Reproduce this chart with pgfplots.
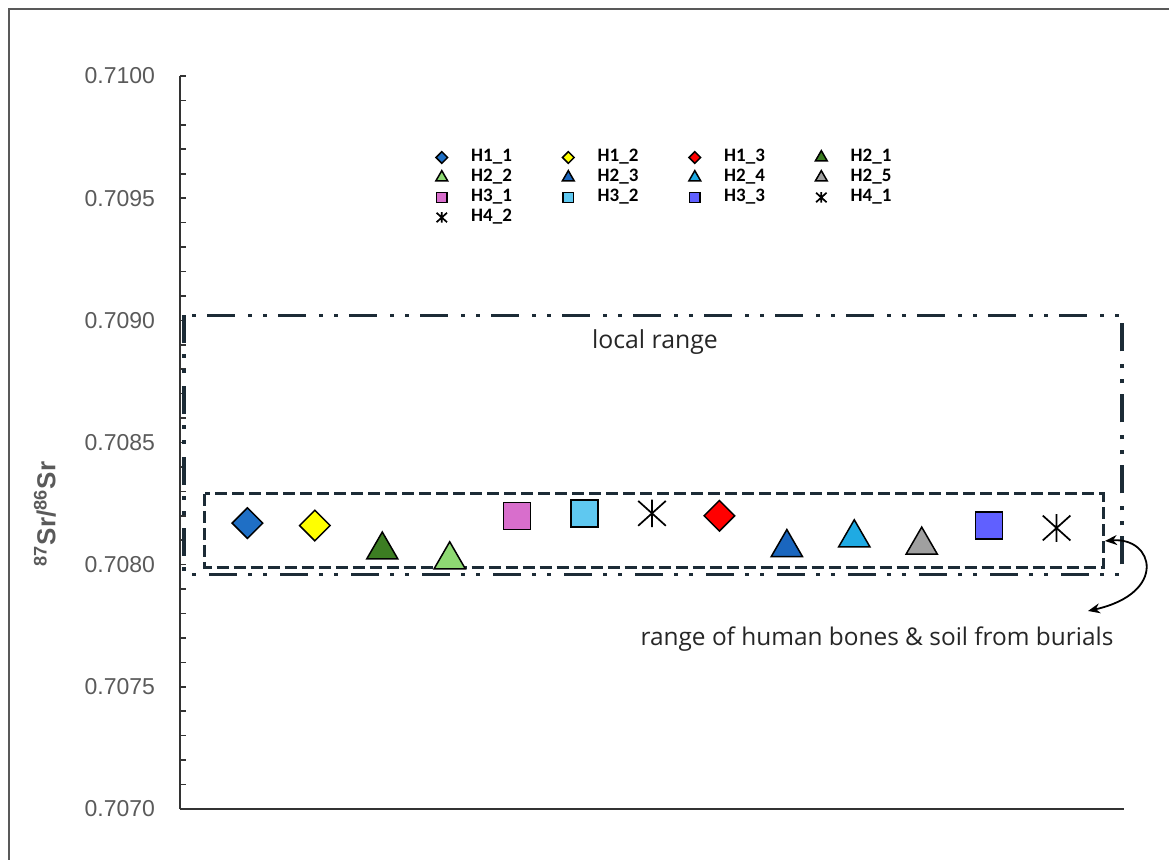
\documentclass[border=0pt]{standalone}
\usepackage{pgfplots}
\pgfplotsset{compat=1.18}
\usepackage{fontspec}
\setmainfont{Liberation Sans}
\newfontfamily\carlito{Carlito}
\newfontfamily\opensans{Open Sans}
\usetikzlibrary{arrows.meta}
\definecolor{boxc}{HTML}{1C2B36}
\definecolor{tickc}{HTML}{5A5A5A}
\definecolor{axc}{HTML}{333333}
\definecolor{cH11}{HTML}{1F6FC5}
\definecolor{cH12}{HTML}{FFFF00}
\definecolor{cH13}{HTML}{FF0000}
\definecolor{cH21}{HTML}{3C7D22}
\definecolor{cH22}{HTML}{8ED973}
\definecolor{cH23}{HTML}{1A66BE}
\definecolor{cH24}{HTML}{1FAAE3}
\definecolor{cH25}{HTML}{A0A0A0}
\definecolor{cH31}{HTML}{D86ECC}
\definecolor{cH32}{HTML}{5FC8F0}
\definecolor{cH33}{HTML}{6060FF}
\pgfdeclareplotmark{ast6}{%
  \pgfpathmoveto{\pgfqpoint{0pt}{\pgfplotmarksize}}%
  \pgfpathlineto{\pgfqpoint{0pt}{-\pgfplotmarksize}}%
  \pgfpathmoveto{\pgfqpoint{-\pgfplotmarksize}{0.9\pgfplotmarksize}}%
  \pgfpathlineto{\pgfqpoint{\pgfplotmarksize}{-0.9\pgfplotmarksize}}%
  \pgfpathmoveto{\pgfqpoint{-\pgfplotmarksize}{-0.9\pgfplotmarksize}}%
  \pgfpathlineto{\pgfqpoint{\pgfplotmarksize}{0.9\pgfplotmarksize}}%
  \pgfusepathqstroke}
\begin{document}
\begin{tikzpicture}
\useasboundingbox (-90pt,-25.5pt) rectangle (494.5pt,404.5pt);
\draw[color=black!65, line width=0.8pt] (-85.5pt,-25.5pt) -- (-85.5pt,400pt) -- (494.5pt,400pt);
\begin{axis}[
  at={(0pt,0pt)}, anchor=south west,
  scale only axis, width=472pt, height=366.5pt,
  xmin=0, xmax=14, ymin=0.7070, ymax=0.7100,
  axis x line*=bottom, axis y line*=left,
  axis line style={-, color=axc, line width=0.8pt},
  xtick=\empty,
  ytick={0.7070,0.7075,0.7080,0.7085,0.7090,0.7095,0.7100},
  minor y tick num=4,
  tick align=inside,
  major tick length=3pt, minor tick length=3pt,
  tick style={color=axc, line width=0.8pt},
  yticklabel style={/pgf/number format/fixed, /pgf/number format/zerofill, /pgf/number format/precision=4, font=\fontsize{11.5}{13}\selectfont, text=tickc, xshift=-9pt},
  /pgf/number format/assume math mode=true,
  clip=false,
  legend columns=4,
  legend style={at={(rel axis cs:0.268,0.903)}, anchor=north west, draw=none, fill=none, inner sep=0pt,
     font=\carlito\bfseries\fontsize{9.5}{10}\selectfont,
     nodes={inner sep=0pt, text height=7pt, text depth=3pt},
     column sep=0pt, row sep=0pt,
     /tikz/every even column/.style={column sep=24pt}},
  legend cell align=left,
  legend image code/.code={\path (-4pt,0pt) (14.5pt,0pt); \draw[/tikz/every mark/.append style={scale=0.38}] plot coordinates {(0pt,0pt)};},
]
% H1 diamonds
\addplot[only marks, mark=square*, mark size=5.4pt, mark options={rotate=45, draw=black, fill=cH11, line width=0.75pt}] coordinates {(1,0.70817)};
\addlegendentry{H1\_1}
\addplot[only marks, mark=square*, mark size=5.4pt, mark options={rotate=45, draw=black, fill=cH12, line width=0.75pt}] coordinates {(2,0.70816)};
\addlegendentry{H1\_2}
\addplot[only marks, mark=square*, mark size=5.4pt, mark options={rotate=45, draw=black, fill=cH13, line width=0.75pt}] coordinates {(8,0.70820)};
\addlegendentry{H1\_3}
% H2 triangles
\addplot[only marks, mark=triangle*, mark size=9pt, mark options={draw=black, fill=cH21, line width=0.75pt}] coordinates {(3,0.70806)};
\addlegendentry{H2\_1}
\addplot[only marks, mark=triangle*, mark size=9pt, mark options={draw=black, fill=cH22, line width=0.75pt}] coordinates {(4,0.70802)};
\addlegendentry{H2\_2}
\addplot[only marks, mark=triangle*, mark size=9pt, mark options={draw=black, fill=cH23, line width=0.75pt}] coordinates {(9,0.70807)};
\addlegendentry{H2\_3}
\addplot[only marks, mark=triangle*, mark size=9pt, mark options={draw=black, fill=cH24, line width=0.75pt}] coordinates {(10,0.70811)};
\addlegendentry{H2\_4}
\addplot[only marks, mark=triangle*, mark size=9pt, mark options={draw=black, fill=cH25, line width=0.75pt}] coordinates {(11,0.70808)};
\addlegendentry{H2\_5}
% H3 squares
\addplot[only marks, mark=square*, mark size=6.75pt, mark options={draw=black, fill=cH31, line width=0.75pt}] coordinates {(5,0.70820)};
\addlegendentry{H3\_1}
\addplot[only marks, mark=square*, mark size=6.75pt, mark options={draw=black, fill=cH32, line width=0.75pt}] coordinates {(6,0.70821)};
\addlegendentry{H3\_2}
\addplot[only marks, mark=square*, mark size=6.75pt, mark options={draw=black, fill=cH33, line width=0.75pt}] coordinates {(12,0.70816)};
\addlegendentry{H3\_3}
% H4 asterisks
\addplot[only marks, mark=ast6, mark size=6.9pt, mark options={draw=black, line width=0.85pt}] coordinates {(7,0.70821)};
\addlegendentry{H4\_1}
\addplot[only marks, mark=ast6, mark size=6.9pt, mark options={draw=black, line width=0.85pt}] coordinates {(13,0.70815)};
\addlegendentry{H4\_2}
% ranges
\draw[boxc, line width=1.8pt, dash pattern=on 14pt off 5.5pt on 2pt off 5.5pt on 2pt off 6.5pt]
  (axis cs:0.06,0.70902) rectangle (axis cs:13.97,0.70796);
\draw[boxc, line width=1.5pt, dash pattern=on 6pt off 2.5pt]
  (axis cs:0.37,0.70829) rectangle (axis cs:13.69,0.70799);
\end{axis}
\node[font=\opensans\fontsize{12.4}{14}\selectfont, text=black!85] at (237.5pt,233.5pt) {local range};
\node[font=\opensans\fontsize{12.2}{14}\selectfont, text=black!85] at (348.5pt,85pt) {range of human bones \& soil from burials};
\draw[{Stealth[length=6pt,width=5pt]}-{Stealth[length=6pt,width=5pt]}, line width=0.9pt]
  (462.5pt,134pt) .. controls (487pt,136pt) and (494pt,108pt) .. (454pt,99pt);
\node[rotate=90, font=\bfseries\fontsize{13}{15}\selectfont, text=tickc] at (-67.5pt,147.5pt) {\textsuperscript{87}Sr/\textsuperscript{86}Sr};
\end{tikzpicture}
\end{document}
